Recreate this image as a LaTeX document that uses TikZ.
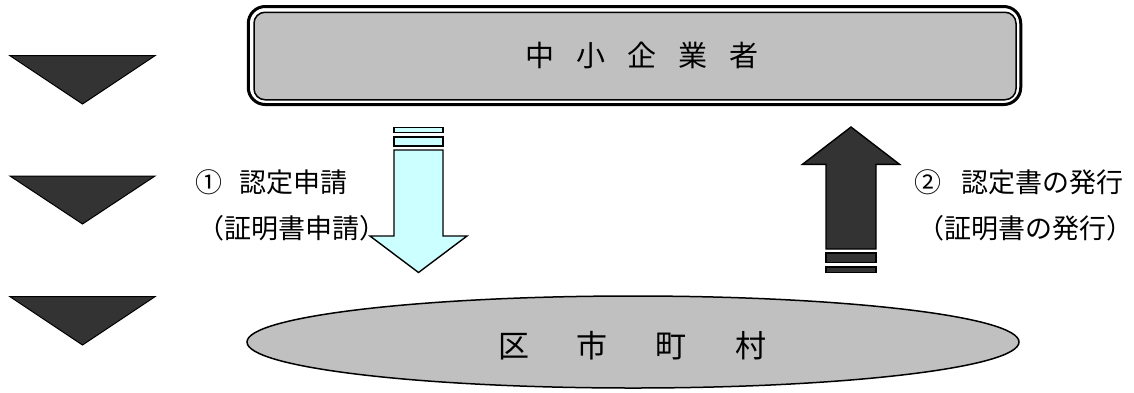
\documentclass[tikz,border=0pt]{standalone}
\usepackage{fontspec}
\newfontfamily\jp{Noto Sans CJK JP}
\usetikzlibrary{shapes.geometric}
\definecolor{boxgray}{HTML}{C0C0C0}
\definecolor{darkfill}{HTML}{333333}
\definecolor{paleblue}{HTML}{CCFFFF}
\tikzset{
  outerframe/.style={draw=black, line width=3pt, rounded corners=17pt, minimum width=772.5pt, minimum height=98pt, inner sep=0pt},
  innerbox/.style={draw=black, line width=1.5pt, fill=boxgray, rounded corners=11pt, minimum width=762pt, minimum height=87.5pt, inner sep=0pt},
  cityshape/.style={ellipse, draw=black, line width=1.5pt, fill=boxgray, minimum width=772pt, minimum height=92pt, inner sep=0pt},
  blockdown/.style={draw=black, line width=1.4pt, fill=paleblue, line join=miter},
  blockup/.style={draw=black, line width=1.4pt, fill=darkfill, line join=miter},
  marker/.style={draw=black, line width=1pt, fill=darkfill, line join=miter},
  lbl/.style={anchor=west, inner sep=0pt, font=\jp\fontsize{27}{27}\selectfont},
}
\begin{document}
\begin{tikzpicture}[x=1pt,y=-1pt]
\useasboundingbox (0,0) rectangle (1134,392);
% top box (double frame)
\node[outerframe] (smbframe) at (634.5,55.5) {};
\node[innerbox] (smb) at (635,56) {};
\node[font=\jp\fontsize{29}{29}\selectfont] (smbtext) at (642,55) {中\hspace{22pt}小\hspace{22pt}企\hspace{22pt}業\hspace{22pt}者};
% ellipse
\node[cityshape] (city) at (633,342) {};
\node[font=\jp\fontsize{31}{31}\selectfont] (citytext) at (632,346) {区\hspace{48pt}市\hspace{48pt}町\hspace{48pt}村};
% left markers
\draw[marker] (10,55.7) -- (155,55.7) -- (82.5,104) -- cycle;
\draw[marker] (10,176) -- (155,176) -- (82.5,224) -- cycle;
\draw[marker] (10,296.7) -- (155,296.7) -- (82.5,345) -- cycle;
% down arrow (application)
\draw[blockdown] (394,127.7) rectangle (443,132.7);
\draw[blockdown] (394,137) rectangle (443,146);
\draw[blockdown] (394,150) -- (443,150) -- (443,236) -- (467,236) -- (418.5,272.5) -- (370,236) -- (394,236) -- cycle;
% up arrow (issuance)
\draw[blockup] (826,253) rectangle (876,262.7);
\draw[blockup] (826,267) rectangle (876,272.7);
\draw[blockup] (826,249) -- (876,249) -- (876,164.3) -- (899.5,164.3) -- (851,127) -- (802.5,164.3) -- (826,164.3) -- cycle;
% labels
\node[lbl] (req1) at (195,182) {①\hspace{17pt}認定申請};
\node[lbl] (req2) at (197,228) {（証明書申請）};
\node[lbl] (iss1) at (914,182) {②\hspace{20pt}認定書の発行};
\node[lbl] (iss2) at (917,228) {（証明書の発行）};
\end{tikzpicture}
\end{document}
